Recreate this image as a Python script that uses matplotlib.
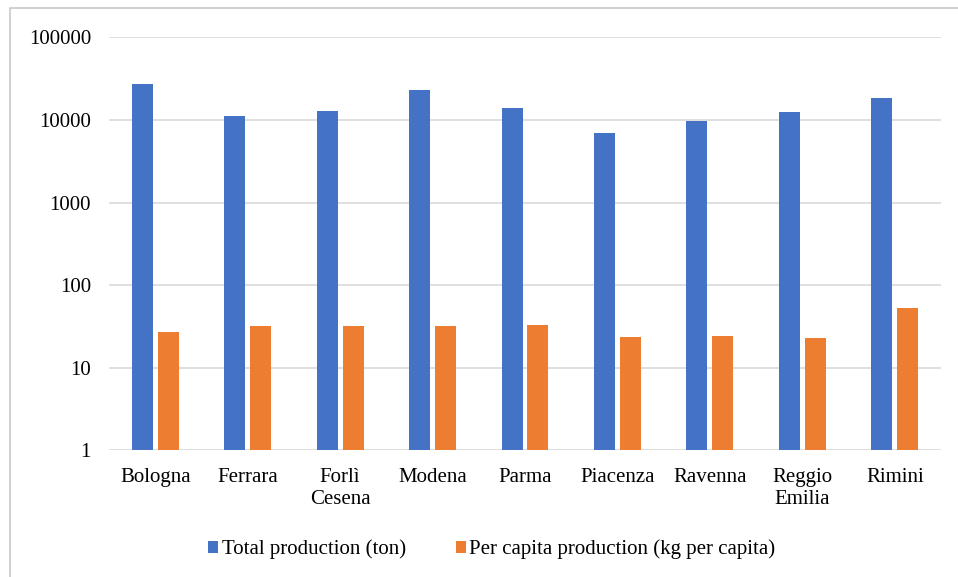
import numpy as np
import matplotlib.pyplot as plt
from matplotlib.lines import Line2D

provinces = ['Bologna', 'Ferrara', 'Forlì\nCesena', 'Modena', 'Parma',
             'Piacenza', 'Ravenna', 'Reggio\nEmilia', 'Rimini']
total_ton = [27200, 11100, 12800, 23000, 13900, 6940, 9700, 12500, 18400]
per_capita_kg = [27.0, 31.7, 31.7, 32.3, 32.6, 23.5, 24.4, 22.9, 52.8]
y_ticks = [1, 10, 100, 1000, 10000, 100000]

plt.rcParams['font.family'] = ['Liberation Serif', 'DejaVu Serif']

fig = plt.figure(figsize=(9.58, 5.77), dpi=100)
ax = fig.add_axes([109 / 958, 1 - 450.3 / 577, 832 / 958, (450.3 - 37.3) / 577])

x = np.arange(len(provinces))
w = 0.227
ax.bar(x - 0.14, total_ton, w, color='#4472c4', label='Total production (ton)', zorder=3)
ax.bar(x + 0.14, per_capita_kg, w, color='#ed7d31', label='Per capita production (kg per capita)', zorder=3)

ax.set_yscale('log')
ax.set_ylim(1, 100000)
ax.set_yticks(y_ticks)
ax.set_yticklabels([str(v) for v in y_ticks])
ax.yaxis.set_minor_locator(plt.NullLocator())
ax.set_xlim(-0.5, len(provinces) - 0.5)
ax.set_xticks(x)
ax.set_xticklabels(provinces, linespacing=1.22)
ax.tick_params(axis='both', length=0, labelsize=15, colors='#000000')
ax.tick_params(axis='x', pad=13)
ax.tick_params(axis='y', pad=13)
ax.grid(axis='y', color='#d9d9d9', linewidth=1.2, zorder=0)
for s in ax.spines.values():
    s.set_visible(False)

ax.legend(loc='center', bbox_to_anchor=(0.46, -0.24), ncol=2, frameon=False,
          fontsize=15, handlelength=0.5, handleheight=0.5, handletextpad=0.15,
          columnspacing=2.4)

# chart frame: only top and left edges fall inside the picture
fig.lines.append(Line2D([10 / 958, 10 / 958, 1], [0, 1 - 8 / 577, 1 - 8 / 577],
                        transform=fig.transFigure, color='#c8c8c8', linewidth=1.2))

fig.savefig('out.png', dpi=100)
